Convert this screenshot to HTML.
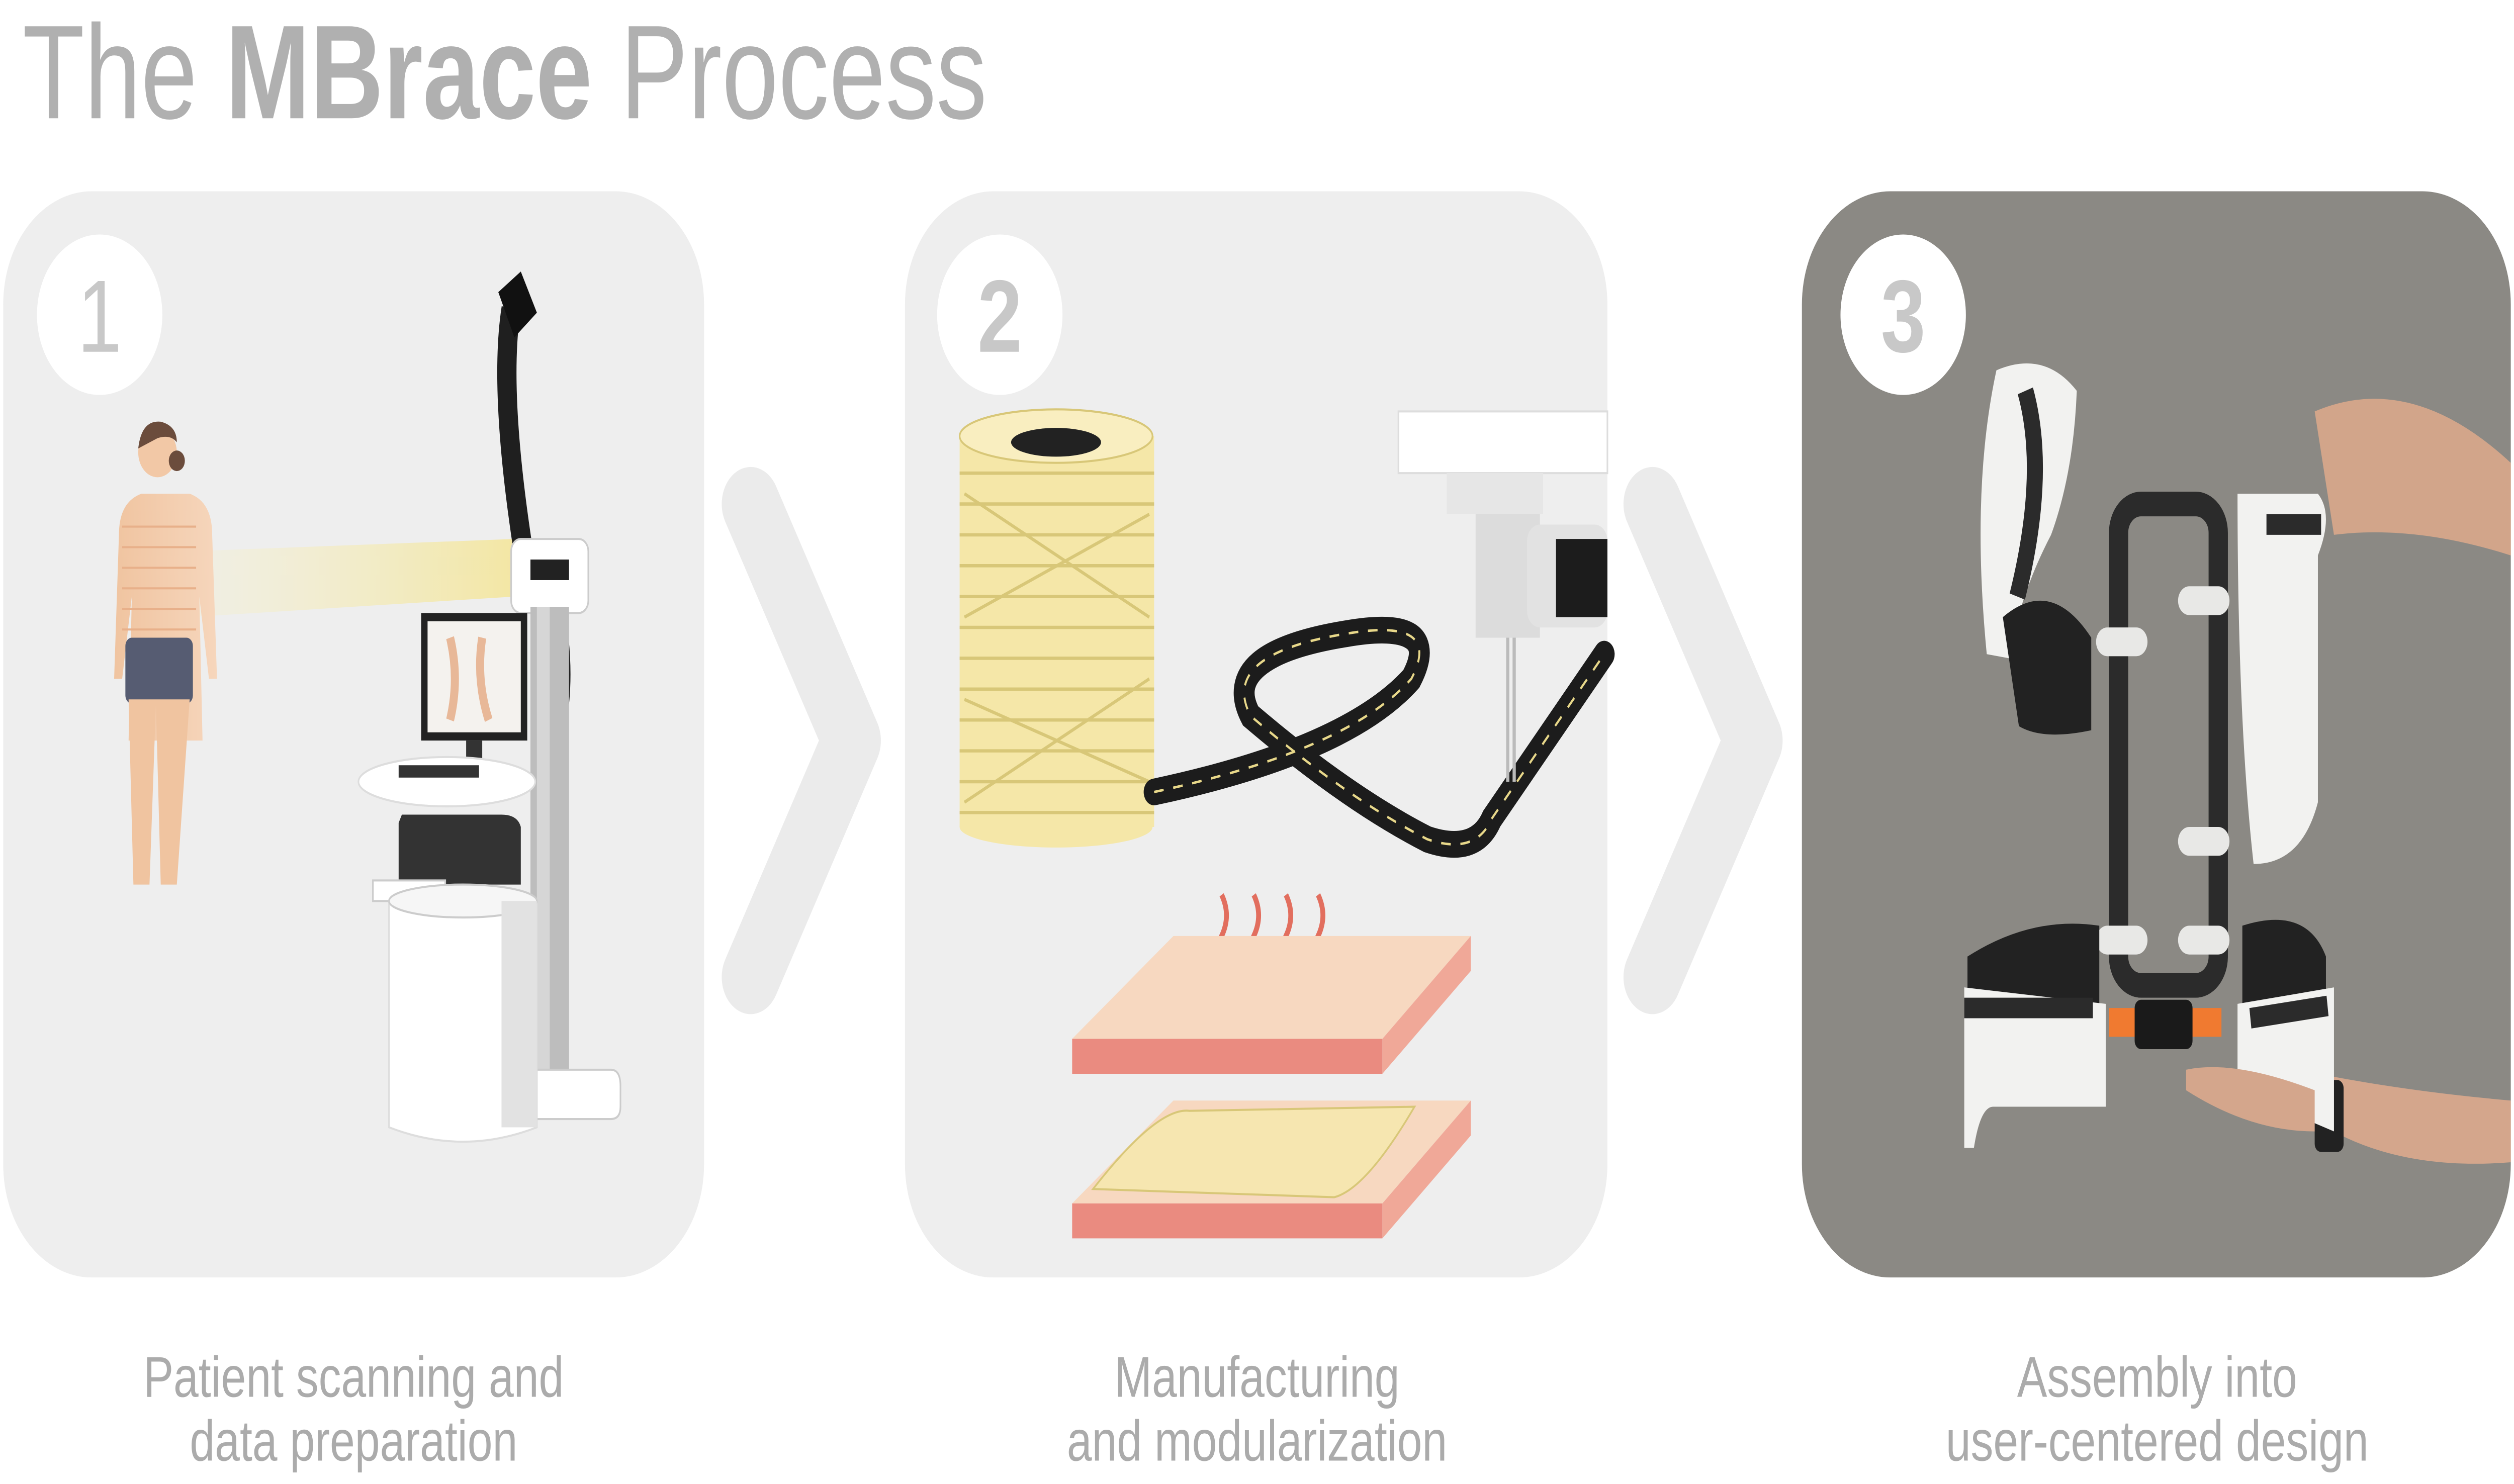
<!DOCTYPE html>
<html><head><meta charset="utf-8"><style>
html,body{margin:0;padding:0;background:#fff;width:100%;height:100%;overflow:hidden;}
svg{display:block;width:100vw;height:100vh;}
text{font-family:"Liberation Sans",sans-serif;}
</style></head><body>
<svg viewBox="0 0 1564 721.4" preserveAspectRatio="none" xmlns="http://www.w3.org/2000/svg">
<defs>
<linearGradient id="beam" x1="0" x2="1" y1="0" y2="0">
<stop offset="0" stop-color="#f7efc0" stop-opacity="0.2"/><stop offset="1" stop-color="#f3e6a0" stop-opacity="0.95"/>
</linearGradient>
<linearGradient id="skin" x1="0" x2="1"><stop offset="0" stop-color="#f0c4a0"/><stop offset="1" stop-color="#f6d6bc"/></linearGradient>
</defs>
<rect width="1564" height="721.4" fill="#fff"/>
<text x="14" y="57.5" font-size="65" fill="#b0b0b0" textLength="600" lengthAdjust="spacingAndGlyphs">The <tspan font-weight="bold">MBrace</tspan> Process</text>

<rect x="2" y="93" width="436" height="528" rx="55" fill="#eeeeee"/>
<rect x="563" y="93" width="437" height="528" rx="55" fill="#eeeeee"/>
<rect x="1121" y="93" width="441" height="528" rx="55" fill="#8b8984"/>

<polyline points="467,245 530,360 467,475" fill="none" stroke="#ebebeb" stroke-width="36" stroke-linecap="round" stroke-linejoin="round"/>
<polyline points="1028,245 1091,360 1028,475" fill="none" stroke="#ebebeb" stroke-width="36" stroke-linecap="round" stroke-linejoin="round"/>

<polygon points="118,268 118,300 320,290 320,262" fill="url(#beam)"/>
<g>
<circle cx="98" cy="220" r="12" fill="#f2c8a6"/>
<path d="M86,218 q2,-14 14,-13 q10,2 10,10 q-4,-4 -12,-2 z" fill="#6b4c3c"/>
<circle cx="110" cy="224" r="5" fill="#6b4c3c"/>
<path d="M88,240 q-14,4 -14,20 l-3,70 l5,0 l6,-40 l-2,70 l46,0 l-2,-70 l6,40 l5,0 l-3,-70 q0,-16 -14,-20 z" fill="url(#skin)"/>
<rect x="78" y="310" width="42" height="32" rx="4" fill="#565c72"/>
<path d="M80,340 l3,90 l10,0 l4,-88 l3,88 l10,0 l8,-90 z" fill="#f0c4a0"/>
<g stroke="#e8b08a" stroke-width="1">
<line x1="76" y1="256" x2="122" y2="256"/><line x1="76" y1="266" x2="122" y2="266"/><line x1="76" y1="276" x2="122" y2="276"/><line x1="76" y1="286" x2="122" y2="286"/><line x1="76" y1="296" x2="122" y2="296"/><line x1="76" y1="306" x2="122" y2="306"/>
</g>
</g>
<path d="M318,150 q-8,40 8,120" fill="none" stroke="#1f1f1f" stroke-width="12"/>
<path d="M310,142 l14,-10 l10,20 l-14,12 z" fill="#111"/>
<rect x="318" y="262" width="48" height="36" rx="6" fill="#fff" stroke="#ccc"/>
<rect x="330" y="272" width="24" height="10" fill="#222"/>
<path d="M350,300 q8,40 -6,70" fill="none" stroke="#222" stroke-width="4"/>
<rect x="330" y="295" width="24" height="225" fill="#bdbdbd"/>
<rect x="334" y="295" width="8" height="225" fill="#d6d6d6"/>
<path d="M320,520 l60,0 q6,0 6,8 l0,10 q0,6 -6,6 l-60,0 z" fill="#fff" stroke="#ccc"/>
<rect x="262" y="298" width="66" height="62" fill="#222"/>
<rect x="266" y="302" width="58" height="54" fill="#f4f2ee"/>
<path d="M280,310 q6,20 0,40 M300,310 q-4,20 4,40" stroke="#e8b898" stroke-width="5" fill="none"/>
<rect x="290" y="360" width="10" height="14" fill="#333"/>
<ellipse cx="278" cy="380" rx="55" ry="12" fill="#fff" stroke="#ddd"/>
<rect x="248" y="372" width="50" height="6" fill="#333"/>
<path d="M250,396 l62,0 q10,0 12,6 l0,28 l-76,0 l0,-30 z" fill="#333"/>
<rect x="232" y="428" width="45" height="10" fill="#fff" stroke="#ccc"/>
<path d="M242,438 l92,0 l0,110 q-46,14 -92,0 z" fill="#fff" stroke="#ddd"/>
<ellipse cx="288" cy="438" rx="46" ry="8" fill="#f6f6f6" stroke="#ccc"/>
<rect x="312" y="438" width="22" height="110" fill="#e2e2e2"/>

<rect x="597" y="212" width="121" height="190" fill="#f5e7a8"/>
<ellipse cx="657" cy="402" rx="60" ry="10" fill="#f5e7a8"/>
<g stroke="#d8c778" stroke-width="1.6" fill="none">
<path d="M597,230 h121 M597,245 h121 M597,260 h121 M597,275 h121 M597,290 h121 M597,305 h121 M597,320 h121 M597,335 h121 M597,350 h121 M597,365 h121 M597,380 h121 M597,395 h121"/>
<path d="M600,240 L715,300 M600,300 L715,250 M600,340 L715,380 M600,390 L715,330"/>
</g>
<ellipse cx="657" cy="212" rx="60" ry="13" fill="#f9eec0" stroke="#d8c778"/>
<ellipse cx="657" cy="215" rx="28" ry="7" fill="#222"/>
<path d="M718,385 q120,-20 160,-55 q20,-30 -40,-22 q-80,10 -60,40 q60,40 110,60 q30,8 40,-10 l70,-80" fill="none" stroke="#1c1c1c" stroke-width="13" stroke-linecap="round"/>
<path d="M718,385 q120,-20 160,-55 q20,-30 -40,-22 q-80,10 -60,40 q60,40 110,60 q30,8 40,-10 l70,-80" fill="none" stroke="#e8d88a" stroke-width="1.2" stroke-dasharray="6 6"/>
<rect x="870" y="200" width="130" height="30" fill="#fff" stroke="#ddd"/>
<rect x="900" y="230" width="60" height="20" fill="#e6e6e6"/>
<rect x="918" y="250" width="40" height="60" fill="#dcdcdc"/>
<rect x="950" y="255" width="50" height="50" rx="8" fill="#e2e2e2"/>
<rect x="968" y="262" width="32" height="38" fill="#1c1c1c"/>
<path d="M938,310 l0,70 M942,310 l0,70" stroke="#bbb" stroke-width="2"/>
<path d="M760,475 q-6,-10 0,-20 q6,-10 0,-20 M780,475 q-6,-10 0,-20 q6,-10 0,-20 M800,475 q-6,-10 0,-20 q6,-10 0,-20 M820,475 q-6,-10 0,-20 q6,-10 0,-20" stroke="#e26e5e" stroke-width="3" fill="none"/>
<polygon points="667,505 730,455 915,455 860,505" fill="#f7d8c0"/>
<polygon points="667,505 860,505 860,522 667,522" fill="#ea8b80"/>
<polygon points="860,505 915,455 915,472 860,522" fill="#f0a898"/>
<polygon points="667,585 730,535 915,535 860,585" fill="#f7d8c0"/>
<path d="M680,578 q40,-40 60,-38 l140,-2 q-30,40 -50,44 z" fill="#f6e6b0" stroke="#d8c778"/>
<polygon points="667,585 860,585 860,602 667,602" fill="#ea8b80"/>
<polygon points="860,585 915,535 915,552 860,602" fill="#f0a898"/>

<path d="M1440,200 q60,-20 122,25 l0,45 q-60,-15 -110,-10 z" fill="#d2a58a"/>
<path d="M1430,520 q60,10 132,15 l0,30 q-80,5 -130,-25 z" fill="#d4a68c"/>
<rect x="1440" y="525" width="18" height="35" rx="4" fill="#222"/>
<path d="M1242,180 q30,-10 50,10 q-2,40 -16,70 q-20,30 -26,60 l-14,-2 q-10,-80 6,-138 z" fill="#f2f2f0"/>
<path d="M1260,190 q14,40 -5,100" stroke="#2b2b2b" stroke-width="10" fill="none"/>
<path d="M1246,300 q30,-20 55,10 l0,45 q-30,5 -45,-2 z" fill="#222"/>
<path d="M1392,240 l50,0 q10,10 0,30 l0,120 q-10,30 -40,30 q-10,-70 -10,-180 z" fill="#f2f2f0"/>
<path d="M1410,255 l34,0" stroke="#2b2b2b" stroke-width="10"/>
<rect x="1318" y="245" width="62" height="234" rx="14" fill="none" stroke="#2b2b2b" stroke-width="12"/>
<g fill="#e8e8e6"><rect x="1304" y="305" width="32" height="14" rx="7"/><rect x="1355" y="285" width="32" height="14" rx="7"/><rect x="1355" y="402" width="32" height="14" rx="7"/><rect x="1304" y="450" width="32" height="14" rx="7"/><rect x="1355" y="450" width="32" height="14" rx="7"/></g>
<path d="M1224,465 q40,-20 82,-15 l0,40 q-40,0 -82,0 z" fill="#222"/>
<path d="M1395,450 q40,-10 52,15 l0,25 l-52,0 z" fill="#222"/>
<path d="M1222,480 l88,8 l0,50 l-70,0 q-8,0 -12,20 l-6,0 z" fill="#f2f2f0"/>
<path d="M1222,490 l80,0" stroke="#2b2b2b" stroke-width="10"/>
<path d="M1392,488 l60,-8 l0,70 l-60,-20 z" fill="#f2f2f0"/>
<path d="M1400,495 l48,-6" stroke="#2b2b2b" stroke-width="10"/>
<rect x="1312" y="490" width="70" height="14" fill="#f07a30"/>
<rect x="1328" y="486" width="36" height="24" rx="4" fill="#1a1a1a"/>
<path d="M1360,520 q30,-5 80,10 l0,20 q-40,0 -80,-20 z" fill="#d4a68c"/>

<circle cx="62" cy="153" r="39" fill="#fff"/>
<circle cx="622" cy="153" r="39" fill="#fff"/>
<circle cx="1184" cy="153" r="39" fill="#fff"/>
<text x="62" y="171" font-size="50" fill="#c8c8c8" text-anchor="middle">1</text>
<text x="622" y="171" font-size="50" fill="#c8c8c8" text-anchor="middle" font-weight="bold">2</text>
<text x="1184" y="171" font-size="50" fill="#c8c8c8" text-anchor="middle" font-weight="bold">3</text>

<g font-size="28" fill="#ababab" text-anchor="middle">
<text x="220" y="679">Patient scanning and</text>
<text x="220" y="710">data preparation</text>
<text x="782" y="679">Manufacturing</text>
<text x="782" y="710">and modularization</text>
<text x="1342" y="679">Assembly into</text>
<text x="1342" y="710">user-centered design</text>
</g>
</svg>
</body></html>
